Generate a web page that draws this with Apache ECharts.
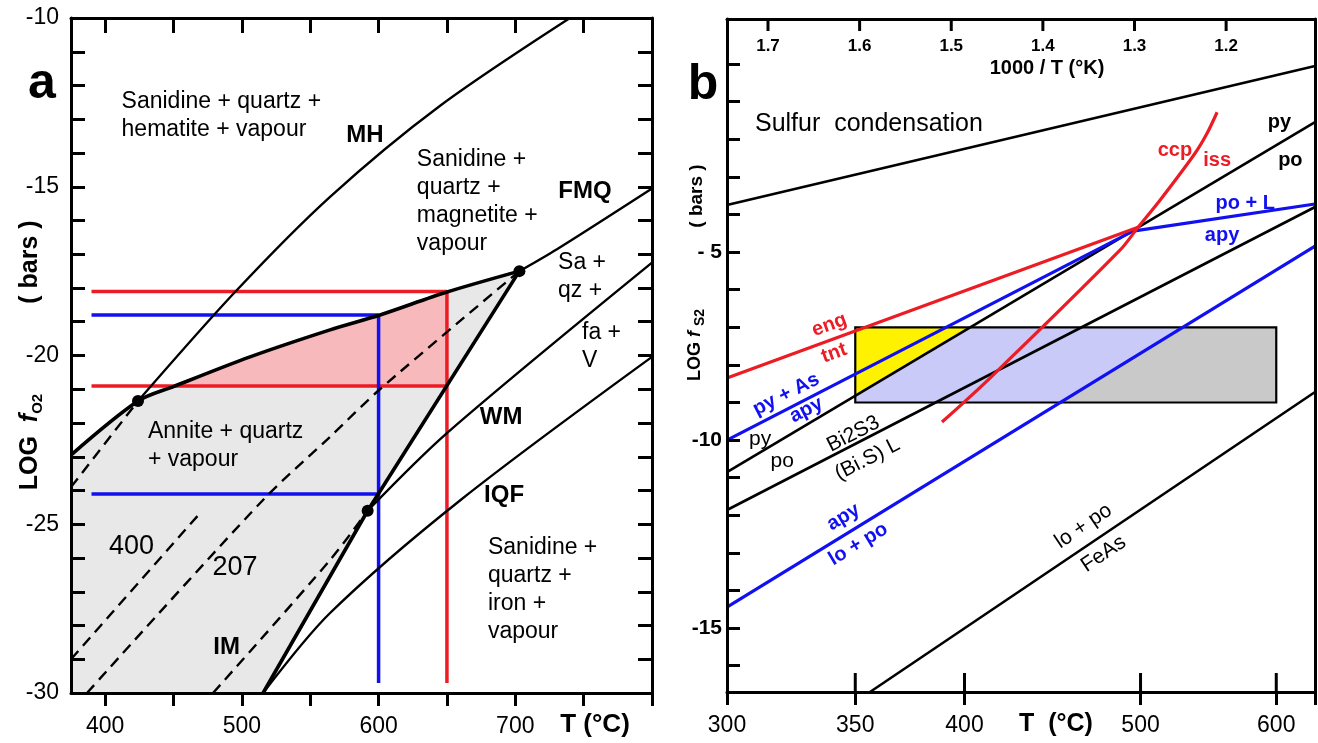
<!DOCTYPE html>
<html><head><meta charset="utf-8">
<script src="https://cdn.jsdelivr.net/npm/echarts@6/dist/echarts.min.js"></script>
<style>html,body{margin:0;padding:0;background:#fff}#c{width:1318px;height:743px}</style>
</head><body><div id="c"></div>
<script>
// ---------------- Panel a data (T in °C, log fO2 in bars) ----------------
const aXTicks = [400,450,500,550,600,650,700,750,800];
const aXTopTicks = [400,450,500,550,600,650,700,750];
const aXLabels = [400,500,600,700];
const aYTicks = [-30,-29,-28,-27,-26,-25,-24,-23,-22,-21,-20,-19,-18,-17,-16,-15,-14,-13,-12,-11,-10];
const aYLabels = [-30,-25,-20,-15,-10];

const mhBuffer = [[424,-21.35],[495,-18.12],[564.5,-15.3],[645,-12.6],[740,-10]];
const mhMetastable = [[375,-23.9],[424,-21.35]];
const anniteUpper = [[375,-22.95],[424,-21.35],[450,-20.92],[506,-20.04],[564.5,-19.24],[601,-18.8],[650,-18.12],[703,-17.5]];
const anniteLower = [[703,-17.5],[592,-24.6],[515.5,-30]];
const fmqBuffer = [[703,-17.5],[730.5,-16.85],[800,-15.05]];
const wmBuffer = [[592,-24.6],[650,-22.3],[800,-17.25]];
const iqfBuffer = [[515.5,-30],[564.5,-27.63],[660,-24.28],[800,-20.04]];
const iso207 = [[386.7,-30],[515.5,-24.28],[564.5,-22.41],[601,-21.0],[703,-17.5]];
const iso400 = [[375,-29.0],[469.4,-24.67]];
const imBuffer = [[478.9,-30],[564.5,-26.06],[592,-24.6]];
const invariantPoints = [[424,-21.35],[592,-24.6],[703,-17.5]];
const redTop = [[390,-18.1],[650,-18.1]];
const redBottom = [[390,-20.9],[650,-20.9]];
const redVertical = [[650,-18.1],[650,-29.7]];
const blueTop = [[390,-18.8],[600,-18.8]];
const blueBottom = [[390,-24.1],[600,-24.1]];
const blueVertical = [[600,-18.8],[600,-29.7]];
const annitePinkEnd = [650,-20.92];

// ---------------- Panel b data (T in °C, log fS2 in bars) ----------------
const bTLabels = [300,350,400,500,600];
const bTInnerTicks = [350,400,500,600];
const bInvTicks = [1.2,1.3,1.4,1.5,1.6,1.7];   // 1000/T(K)
const bYTicks = [-16,-15,-14,-13,-12,-11,-10,-9,-8,-7,-6,-5,-4,-3,-2,-1,0];
const bYLabels = [-15,-10,-5];

const sulfurCond = [[300,-3.75],[633.5,-0.05]];
const engTnt = [[300,-8.35],[498.4,-4.34]];
const pyAsApy = [[300,-10.0],[495.1,-4.44]];
const poLApy = [[495.1,-4.44],[633.5,-3.72]];
const pyPo = [[300,-10.85],[633.5,-1.54]];
const bi2s3 = [[300,-11.86],[633.5,-3.80]];
const apyLoPo = [[300,-14.44],[633.5,-4.84]];
const loPoFeAs = [[356.3,-16.7],[633.5,-8.72]];
const ccpIss = [[389.05,-9.52],[412.85,-8.35],[486.8,-4.95],[498.4,-4.34],[512.9,-3.62],[537.3,-2.37],[546.0,-1.84],[553.4,-1.28]];
const yellowField = [[350,-7],[402.8,-7],[350,-8.82]];
const lavenderField = [[350,-8.82],[402.8,-7],[528.5,-7],[450.9,-9],[350,-9]];
const grayField = [[528.5,-7],[600,-7],[600,-9],[450.9,-9]];
const boxField = [[350,-7],[600,-7],[600,-9],[350,-9]];

// ---------------- annotations ----------------
const aNotes = [
  {t:'Sanidine + quartz +\nhematite + vapour', p:[412,-12.9], k:'reg'},
  {t:'MH', p:[590,-13.47], k:'bold'},
  {t:'Sanidine +\nquartz +\nmagnetite +\nvapour', p:[628,-15.44], k:'reg'},
  {t:'FMQ', p:[751,-15.13], k:'bold'},
  {t:'Sa +\nqz +', p:[731.3,-17.67], k:'reg'},
  {t:'fa +\nV', p:[748.8,-19.75], k:'reg'},
  {t:'WM', p:[689.6,-21.82], k:'bold'},
  {t:'IQF', p:[691.8,-24.13], k:'bold'},
  {t:'Annite + quartz\n+ vapour', p:[431.3,-22.68], k:'reg'},
  {t:'400', p:[419.3,-25.67], k:'big'},
  {t:'207', p:[495,-26.27], k:'big'},
  {t:'IM', p:[488.8,-28.65], k:'bold'},
  {t:'Sanidine +\nquartz +\niron +\nvapour', p:[680,-26.95], k:'reg'}
];
const bNotes = [
  {t:'Sulfur  condensation', p:[310.2,-1.6], k:'title'},
  {t:'py', p:[602.6,-1.54], k:'kb', r:0},
  {t:'po', p:[611.9,-2.55], k:'kb', r:0},
  {t:'ccp', p:[523.1,-2.29], k:'rb', r:0},
  {t:'iss', p:[553.4,-2.55], k:'rb', r:0},
  {t:'po + L', p:[574.9,-3.72], k:'bb', r:0},
  {t:'apy', p:[557.1,-4.55], k:'bb', r:0},
  {t:'eng', p:[339.2,-6.94], k:'rb', r:20},
  {t:'tnt', p:[341.2,-7.69], k:'rb', r:20},
  {t:'py + As', p:[322.0,-8.78], k:'bb', r:27},
  {t:'apy', p:[329.9,-9.2], k:'bb', r:27},
  {t:'py', p:[312.1,-9.97], k:'k', r:0},
  {t:'po', p:[320.5,-10.56], k:'k', r:0},
  {t:'Bi2S3', p:[349.2,-9.84], k:'k', r:27},
  {t:'(Bi.S) L', p:[355.2,-10.51], k:'k', r:27},
  {t:'apy', p:[345.0,-12.05], k:'bb', r:31},
  {t:'lo + po', p:[351.3,-12.77], k:'bb', r:31},
  {t:'lo + po', p:[464.5,-12.29], k:'k', r:34},
  {t:'FeAs', p:[476.6,-13.03], k:'k', r:34}
];

// ---------------- helpers ----------------
// panel b x axis is linear in 1000/T(K), decreasing to the right: use its negative
const invT = t => 1000 / (t + 273.15);
const bx = t => -invT(t);
const toB = pts => pts.map(p => [bx(p[0]), p[1]]);
const FONT = '"Liberation Sans", Arial, Helvetica, sans-serif';
const RED = '#ec1c24', BLUE = '#1010f0', BLACK = '#000';

function lineS(data, xi, yi, color, width, dashed, z, smooth, id) {
  return {id:id, type:'line', xAxisIndex:xi, yAxisIndex:yi, data:data, symbol:'none', showSymbol:false, silent:true,
    z:z||3, animation:false, clip:true, smooth: smooth || false,
    lineStyle:{color:color, width:width, opacity:1, type: dashed ? [11,7] : 'solid', cap:'butt', join:'round'}};
}
function polyS(pts, xi, yi, fill, stroke, z) {
  return {type:'custom', coordinateSystem:'cartesian2d', xAxisIndex:xi, yAxisIndex:yi, silent:true,
    z:z||1, animation:false, data:[pts[0]],
    renderItem: function (params, api) {
      return {type:'polygon', shape:{points: pts.map(p => api.coord(p))},
        style:{fill: fill || 'none', stroke: stroke || 'none', lineWidth: stroke ? 2.2 : 0, opacity:1}};
    }};
}
const noteStyles = {
  reg:{fontSize:23, color:BLACK, align:'left', lineHeight:28},
  bold:{fontSize:24, color:BLACK, fontWeight:'bold', align:'center'},
  big:{fontSize:27, color:BLACK, align:'center'},
  title:{fontSize:25, color:BLACK, align:'left'},
  kb:{fontSize:20, color:BLACK, fontWeight:'bold', align:'center'},
  rb:{fontSize:20, color:RED, fontWeight:'bold', align:'center'},
  bb:{fontSize:20, color:BLUE, fontWeight:'bold', align:'center'},
  k:{fontSize:21, color:BLACK, align:'center'}
};
function notesS(notes, xi, yi, conv) {
  return {type:'scatter', xAxisIndex:xi, yAxisIndex:yi, silent:true, z:9, symbolSize:0, animation:false,
    itemStyle:{color:'transparent', opacity:1},
    data: notes.map(n => ({value: conv(n.p), label: Object.assign({show:true, position:'inside', formatter:n.t,
      fontFamily:FONT, verticalAlign:'middle', opacity:1, rotate: n.r || 0}, noteStyles[n.k])}))};
}
const idA = p => p;
const idB = p => [bx(p[0]), p[1]];

const axisLineStyle = {show:true, onZero:false, lineStyle:{color:BLACK, width:3}};
const tickStyle = {color:BLACK, width:3};

const annitePoly = anniteUpper.concat(anniteLower.slice(1)).concat([[375,-30]]);
const pinkPoly = anniteUpper.slice(2, 7).concat([annitePinkEnd]);

const bMin = bx(300), bMax = -1.103;
const bYMin = -16.7, bYMax = 1.2;
const B_GRID_H = 673;

const baseGraphic = [
  {type:'text', x:42, y:84, style:{text:'a', font:'bold 50px ' + FONT, fill:BLACK, align:'center', verticalAlign:'middle'}},
  {type:'text', x:703, y:85, style:{text:'b', font:'bold 50px ' + FONT, fill:BLACK, align:'center', verticalAlign:'middle'}},
  {type:'text', x:30, y:442, rotation:Math.PI/2, style:{text:'{b|LOG  }{i|f}{s|O2}', align:'center', verticalAlign:'middle',
    rich:{b:{fontSize:25, fontWeight:'bold', fontFamily:FONT, fill:BLACK, lineHeight:30},
          i:{fontSize:25, fontWeight:'bold', fontStyle:'italic', fontFamily:FONT, fill:BLACK, lineHeight:30},
          s:{fontSize:15, fontWeight:'bold', fontFamily:FONT, fill:BLACK, lineHeight:18, verticalAlign:'bottom'}}}},
  {type:'text', x:30, y:262, rotation:Math.PI/2, style:{text:'( bars )', font:'bold 25px ' + FONT, fill:BLACK, align:'center', verticalAlign:'middle'}},
  {type:'text', x:695, y:345, rotation:Math.PI/2, style:{text:'{b|LOG }{i|f }{s|S2}', align:'center', verticalAlign:'middle',
    rich:{b:{fontSize:18, fontWeight:'bold', fontFamily:FONT, fill:BLACK, lineHeight:24},
          i:{fontSize:18, fontWeight:'bold', fontStyle:'italic', fontFamily:FONT, fill:BLACK, lineHeight:24},
          s:{fontSize:14, fontWeight:'bold', fontFamily:FONT, fill:BLACK, lineHeight:16, verticalAlign:'bottom'}}}},
  {type:'text', x:697, y:196, rotation:Math.PI/2, style:{text:'( bars )', font:'bold 19px ' + FONT, fill:BLACK, align:'center', verticalAlign:'middle'}},
  {type:'text', x:595, y:725, style:{text:'T (°C)', font:'bold 26px ' + FONT, fill:BLACK, align:'center', verticalAlign:'middle'}},
  {type:'text', x:1056, y:724, style:{text:'T  (°C)', font:'bold 25px ' + FONT, fill:BLACK, align:'center', verticalAlign:'middle'}},
  {type:'text', x:1047, y:68, style:{text:'1000 / T (°K)', font:'bold 20px ' + FONT, fill:BLACK, align:'center', verticalAlign:'middle'}}
];

const option = {
  animation:false,
  backgroundColor:'#fff',
  textStyle:{fontFamily:FONT},
  grid:[
    {left:71, top:18, width:581, height:675, containLabel:false},
    {left:727, top:19, width:588, height:B_GRID_H, containLabel:false}
  ],
  xAxis:[
    {gridIndex:0, type:'value', position:'bottom', offset:0, min:375, max:800, z:10,
      axisLine:axisLineStyle, splitLine:{show:false},
      axisTick:{show:true, inside:false, length:13, customValues:aXTicks, lineStyle:tickStyle},
      axisLabel:{show:true, customValues:aXLabels, margin:22, fontSize:23, color:BLACK, fontFamily:FONT}},
    {gridIndex:0, type:'value', position:'top', offset:0, min:375, max:800, z:10,
      axisLine:axisLineStyle, splitLine:{show:false},
      axisTick:{show:true, inside:true, length:15, customValues:aXTopTicks, lineStyle:tickStyle},
      axisLabel:{show:false}},
    {gridIndex:1, type:'value', position:'bottom', offset:0, min:bMin, max:bMax, z:10,
      axisLine:axisLineStyle, splitLine:{show:false},
      axisTick:{show:true, inside:false, length:13, customValues:bTLabels.map(bx).concat([bMax]), lineStyle:tickStyle},
      axisLabel:{show:true, customValues:bTLabels.map(bx), margin:22, fontSize:23, color:BLACK, fontFamily:FONT,
        formatter: v => String(Math.round(1000 / (-v) - 273.15))}},
    {gridIndex:1, type:'value', position:'bottom', offset:-B_GRID_H, min:bMin, max:bMax, z:10,
      axisLine:axisLineStyle, splitLine:{show:false},
      axisTick:{show:false},
      axisLabel:{show:true, inside:false, customValues:bInvTicks.map(v => -v), margin:19, fontSize:17, fontWeight:'bold',
        color:BLACK, fontFamily:FONT, formatter: v => (-v).toFixed(1)}}
  ],
  yAxis:[
    {gridIndex:0, type:'value', position:'left', min:-30, max:-10, z:10,
      axisLine:axisLineStyle, splitLine:{show:false},
      axisTick:{show:true, inside:true, length:14, customValues:aYTicks, lineStyle:tickStyle},
      axisLabel:{show:true, customValues:aYLabels, margin:12, fontSize:23, color:BLACK, fontFamily:FONT}},
    {gridIndex:0, type:'value', position:'right', min:-30, max:-10, z:10,
      axisLine:axisLineStyle, splitLine:{show:false},
      axisTick:{show:true, inside:true, length:14, customValues:aYTicks, lineStyle:tickStyle},
      axisLabel:{show:false}},
    {gridIndex:1, type:'value', position:'left', min:bYMin, max:bYMax, z:10,
      axisLine:axisLineStyle, splitLine:{show:false},
      axisTick:{show:true, inside:true, length:13, customValues:bYTicks, lineStyle:tickStyle},
      axisLabel:{show:true, customValues:bYLabels, margin:5, fontSize:21, fontWeight:'bold', color:BLACK, fontFamily:FONT,
        formatter: v => (v === -5 ? '- 5' : String(v))}},
    {gridIndex:1, type:'value', position:'right', min:bYMin, max:bYMax, z:10,
      axisLine:axisLineStyle, splitLine:{show:false},
      axisTick:{show:false}, axisLabel:{show:false}}
  ],
  series:[
    polyS(annitePoly, 0, 0, '#e8e8e8', null, 1),
    polyS(pinkPoly, 0, 0, '#f8b9bd', null, 1),
    lineS(redTop, 0, 0, RED, 3.5), lineS(redBottom, 0, 0, RED, 3.5), lineS(redVertical, 0, 0, RED, 3.5),
    lineS(blueTop, 0, 0, BLUE, 3.5), lineS(blueBottom, 0, 0, BLUE, 3.5), lineS(blueVertical, 0, 0, BLUE, 3.5),
    lineS(mhBuffer, 0, 0, BLACK, 2.4, false, 4, 0.3),
    lineS(mhMetastable, 0, 0, BLACK, 2.4, true, 4),
    lineS(anniteUpper, 0, 0, BLACK, 3.6, false, 5, 0.3),
    lineS(anniteLower, 0, 0, BLACK, 3.6, false, 5),
    lineS(fmqBuffer, 0, 0, BLACK, 2.4, false, 4, 0.3),
    lineS(wmBuffer, 0, 0, BLACK, 2.4, false, 4, 0.3),
    lineS(iqfBuffer, 0, 0, BLACK, 2.4, false, 4, 0.3),
    lineS(iso207, 0, 0, BLACK, 2.4, true, 4, 0.3),
    lineS(iso400, 0, 0, BLACK, 2.4, true, 4),
    lineS(imBuffer, 0, 0, BLACK, 2.4, true, 4, 0.3),
    {type:'scatter', xAxisIndex:0, yAxisIndex:0, data:invariantPoints, symbol:'circle', symbolSize:12,
      itemStyle:{color:BLACK, opacity:1}, silent:true, z:6, animation:false},
    notesS(aNotes, 0, 0, idA),
    polyS(toB(grayField), 2, 2, '#c9c9c9', null, 1),
    polyS(toB(lavenderField), 2, 2, '#cacaf8', null, 1),
    polyS(toB(yellowField), 2, 2, '#fff200', null, 1),
    polyS(toB(boxField), 2, 2, null, BLACK, 2),
    lineS(toB(sulfurCond), 2, 2, BLACK, 2.6, false, 3, false, 'sulfur'),
    lineS(toB(pyPo), 2, 2, BLACK, 2.6),
    lineS(toB(bi2s3), 2, 2, BLACK, 2.6),
    lineS(toB(loPoFeAs), 2, 2, BLACK, 2.6),
    lineS(toB(apyLoPo), 2, 2, BLUE, 3.2),
    lineS(toB(pyAsApy), 2, 2, BLUE, 3.2),
    lineS(toB(poLApy), 2, 2, BLUE, 3.2),
    lineS(toB(engTnt), 2, 2, RED, 3.2),
    lineS(toB(ccpIss), 2, 2, RED, 3.2, false, 3, 0.3),
    notesS(bNotes, 2, 2, idB)
  ],
  graphic: baseGraphic
};
const chart = echarts.init(document.getElementById('c'), null, {renderer:'canvas'});
chart.setOption(option);

// panel b edge ticks (1000/T ticks along the top, inward halves of the T ticks along the bottom),
// placed through the panel's own axis scales
const bSeriesIndex = option.series.findIndex(s => s.id === 'sulfur');
const edgeTicks = [];
bInvTicks.forEach(v => {
  const p = chart.convertToPixel({seriesIndex: bSeriesIndex}, [-v, bYMax]);
  if (p) edgeTicks.push({type:'rect', z:100, shape:{x:p[0] - 1.5, y:p[1], width:3, height:12}, style:{fill:BLACK}});
});
bTInnerTicks.forEach(t => {
  const p = chart.convertToPixel({seriesIndex: bSeriesIndex}, [bx(t), bYMin]);
  if (p) edgeTicks.push({type:'rect', z:100, shape:{x:p[0] - 1.5, y:p[1] - 19, width:3, height:19}, style:{fill:BLACK}});
});
chart.setOption({graphic: baseGraphic.concat(edgeTicks)});
</script>
</body></html>
